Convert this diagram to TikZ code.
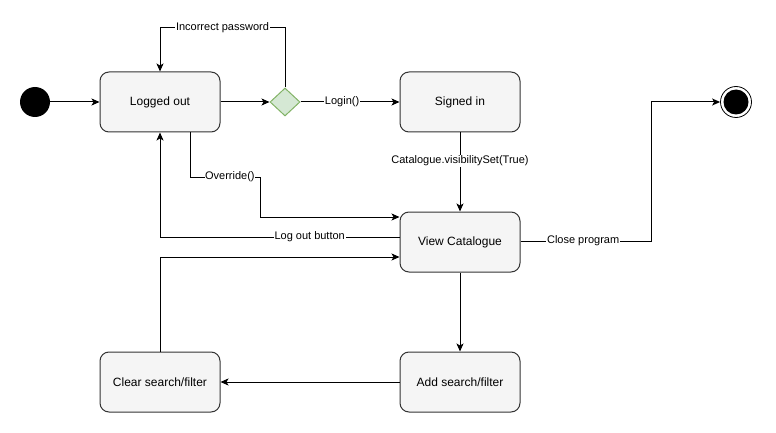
\documentclass[tikz,border=0pt]{standalone}
\usepackage{fontspec}
\setmainfont{Liberation Sans}
\usetikzlibrary{arrows.meta,shapes.geometric}
\definecolor{boxfill}{HTML}{F5F5F5}
\definecolor{boxline}{HTML}{333333}
\definecolor{decfill}{HTML}{D5E8D4}
\definecolor{decline}{HTML}{82B366}
\begin{document}
\begin{tikzpicture}[x=1pt,y=-1pt,
  state/.style={draw=boxline,fill=boxfill,rounded corners=9pt,minimum width=120pt,minimum height=60pt,inner sep=0pt,line width=1pt,font=\fontsize{12}{14}\selectfont},
  decision/.style={diamond,draw=decline,fill=decfill,minimum width=30pt,minimum height=28pt,inner sep=0pt,line width=1pt,aspect=1.1},
  conn/.style={draw,line width=1pt,-{Stealth[length=8pt,width=7pt,inset=2pt]}},
  lbl/.style={fill=white,inner sep=1pt,font=\fontsize{11}{13}\selectfont}
]
\useasboundingbox (0,0) rectangle (776,433);
\node[circle,fill=black,minimum size=30pt,inner sep=0pt] (start) at (35,102) {};
\node[state] (lo) at (160,102) {Logged out};
\node[decision] (dec) at (285,102) {};
\node[state] (si) at (460,102) {Signed in};
\node[state] (vc) at (460,242) {View Catalogue};
\node[state] (add) at (460,382) {Add search/filter};
\node[state] (clr) at (160,382) {Clear search/filter};
\node[circle,draw,line width=0.8pt,fill=white,minimum size=31pt,inner sep=0pt] (end) at (736,102) {};
\node[circle,fill=black,minimum size=25pt,inner sep=0pt] (endin) at (736,102) {};

\draw[conn] (start) -- (lo);
\draw[conn] (lo) -- (dec);
\draw[conn] (dec) -- node[lbl,pos=0.42]{Login()} (si);
\draw[conn] (dec.north) -- (285,28) -- node[lbl]{Incorrect password} (160,28) -- (lo.north);
\draw[conn] (si) -- node[lbl,pos=0.36]{Catalogue.visibilitySet(True)} (vc);
\draw[conn] (lo.south -| 190,0) -- (190,177) -- node[lbl,inner sep=0pt,pos=0.57]{Override()} (260,177) -- (260,217) -- (vc.west |- 0,217);
\draw[conn] (vc.west |- 0,237) -- node[lbl,pos=0.375]{Log out button} (160,237) -- (lo.south);
\draw[conn] (clr.north) -- (160,257) -- (vc.west |- 0,257);
\draw[conn] (vc) -- (add);
\draw[conn] (add) -- (clr);
\draw[conn] (vc.east |- 0,241) -- node[lbl,pos=0.48]{Close program} (651,241) -- (651,102) -- (end.west);
\end{tikzpicture}
\end{document}
